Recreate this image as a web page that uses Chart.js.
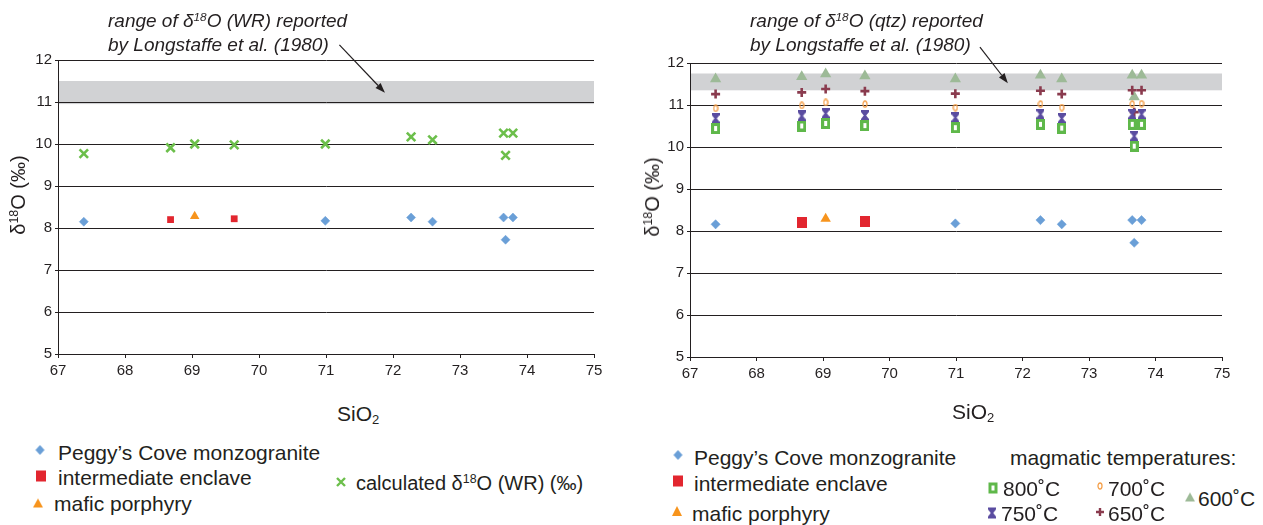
<!DOCTYPE html>
<html>
<head>
<meta charset="utf-8">
<script src="https://cdn.jsdelivr.net/npm/chart.js@4/dist/chart.umd.min.js"></script>
<style>
html,body{margin:0;padding:0;background:#fff;}
#wrap{position:relative;width:1263px;height:525px;background:#fff;font-family:"Liberation Sans",Arial,sans-serif;color:#231f20;overflow:hidden;}
canvas.ch{position:absolute;top:0;}
.t{position:absolute;white-space:nowrap;line-height:1;}
.leg{font-size:21px;transform:translateY(-50%);}
.ann{font-size:19px;font-style:italic;}
.ytitle{font-size:20px;transform:translate(-50%,-50%) rotate(-90deg);}
.xtitle{font-size:21px;transform:translateY(-50%);}
sup{font-size:62%;vertical-align:0.55em;line-height:0;}
sub{font-size:62%;vertical-align:-0.3em;line-height:0;}
.mk{position:absolute;transform:translate(-50%,-50%);}
</style>
</head>
<body>
<div id="wrap">
  <canvas id="c1" class="ch" width="630" height="400" style="left:0"></canvas>
  <canvas id="c2" class="ch" width="631" height="400" style="left:632px"></canvas>

  <div class="t ann" style="left:108px;top:11px">range of δ<sup>18</sup>O (WR) reported</div>
  <div class="t ann" style="left:108px;top:35px">by Longstaffe et al. (1980)</div>
  <div class="t ann" style="left:750px;top:11px">range of δ<sup>18</sup>O (qtz) reported</div>
  <div class="t ann" style="left:750px;top:35px">by Longstaffe et al. (1980)</div>

  <div class="t ytitle" style="left:18px;top:195px">δ<sup>18</sup>O (‰)</div>
  <div class="t ytitle" style="left:652px;top:197px">δ<sup>18</sup>O (‰)</div>
  <div class="t xtitle" style="left:337px;top:413px">SiO<sub>2</sub></div>
  <div class="t xtitle" style="left:952px;top:411px">SiO<sub>2</sub></div>

  <div class="t leg" style="left:58px;top:452px">Peggy’s Cove monzogranite</div>
  <div class="t leg" style="left:58px;top:477px">intermediate enclave</div>
  <div class="t leg" style="left:54px;top:503px">mafic porphyry</div>
  <div class="t leg" style="left:356px;top:483px;font-size:20px">calculated δ<sup>18</sup>O (WR) (‰)</div>

  <div class="t leg" style="left:694px;top:457px">Peggy’s Cove monzogranite</div>
  <div class="t leg" style="left:694px;top:483px">intermediate enclave</div>
  <div class="t leg" style="left:692px;top:513px">mafic porphyry</div>
  <div class="t leg" style="left:1010px;top:457px">magmatic temperatures:</div>
  <div class="t leg" style="left:1003px;top:488px">800˚C</div>
  <div class="t leg" style="left:1108px;top:488px">700˚C</div>
  <div class="t leg" style="left:1198px;top:498px">600˚C</div>
  <div class="t leg" style="left:1001px;top:513px">750˚C</div>
  <div class="t leg" style="left:1108px;top:513px">650˚C</div>
</div>
<script>
// ---------- data ----------
const xTicks = [67, 68, 69, 70, 71, 72, 73, 74, 75];
const yTicks = [5, 6, 7, 8, 9, 10, 11, 12];

// left panel (whole rock)
const peggyX = [67.385, 70.99, 72.27, 72.59, 73.65, 73.79, 73.68];
const peggyWR = [8.15, 8.17, 8.25, 8.15, 8.25, 8.25, 7.72];
const enclaveX = [68.68, 69.63];
const enclaveWR = [8.20, 8.22];
const maficX = [69.04];
const maficWR = [8.28];
const sampleX = [67.385, 68.68, 69.04, 69.63, 70.99, 72.27, 72.59, 73.65, 73.79, 73.68];
const calcWR = [9.77, 9.91, 10.00, 9.98, 10.00, 10.17, 10.10, 10.26, 10.26, 9.73];
const bandWR = [10.95, 11.5];
const arrowWR = [[71.2, 12.36], [71.88, 11.22]];

// right panel (quartz)
const peggyQtz = [8.16, 8.18, 8.26, 8.16, 8.26, 8.26, 7.72];
const enclaveQtz = [8.20, 8.22];
const maficQtz = [8.29];
const t800 = [10.44, 10.50, 10.56, 10.51, 10.46, 10.54, 10.45, 10.54, 10.54, 10.02];
const t750 = [10.68, 10.74, 10.80, 10.75, 10.70, 10.78, 10.68, 10.78, 10.78, 10.26];
const t700 = [10.92, 10.99, 11.06, 11.02, 10.94, 11.02, 10.94, 11.02, 11.03, 10.50];
const t650 = [11.26, 11.30, 11.38, 11.33, 11.27, 11.34, 11.26, 11.35, 11.35, 10.83];
const t600 = [11.62, 11.67, 11.74, 11.69, 11.62, 11.71, 11.62, 11.71, 11.71, 11.19];
const bandQtz = [11.35, 11.75];
const arrowQtz = [[71.36, 12.38], [71.78, 11.52]];

// ---------- colours ----------
const C = {
  peggy:'#6a9fd7', enclave:'#e2262f', mafic:'#f7941d', calc:'#6cbf4b',
  t800:'#5fb84a', t750:'#5a4ca0', t700:'#f5a04b', t650:'#8a3b4e', t600:'#9dba97',
  band:'#d1d2d4', axis:'#231f20'
};

// ---------- marker images ----------
function mkCanvas(w,h,fn){const c=document.createElement('canvas');c.width=w;c.height=h;fn(c.getContext('2d'),w,h);return c;}
const imgHourglass = ()=>mkCanvas(8,11,(g,w,h)=>{g.fillStyle=C.t750;g.beginPath();g.moveTo(0,0);g.lineTo(w,0);g.lineTo(w,2);g.lineTo(w/2+1.2,h/2);g.lineTo(w,h-2);g.lineTo(w,h);g.lineTo(0,h);g.lineTo(0,h-2);g.lineTo(w/2-1.2,h/2);g.lineTo(0,2);g.closePath();g.fill();});
const imgHollowSq = ()=>mkCanvas(9,11,(g,w,h)=>{g.fillStyle=C.t800;g.fillRect(0,0,w,h);g.fillStyle='#fff';g.fillRect(3,3,w-6,h-6);});
const imgOval = ()=>mkCanvas(6,8,(g,w,h)=>{g.strokeStyle=C.t700;g.lineWidth=1.3;g.beginPath();g.ellipse(w/2,h/2,w/2-1,h/2-1,0,0,Math.PI*2);g.stroke();});
const imgRedSq = ()=>mkCanvas(10,11,(g,w,h)=>{g.fillStyle=C.enclave;g.fillRect(0,0,w,h);});

function pts(xs, ys){return xs.map((x,i)=>({x:x,y:ys[i]}));}

// ---------- plugin: band + arrow ----------
const decor = {
  id:'decor',
  beforeDraw(chart, args, opts){
    const {ctx, chartArea:a, scales:{x,y}} = chart;
    const y1 = y.getPixelForValue(opts.band[1]), y0 = y.getPixelForValue(opts.band[0]);
    ctx.save(); ctx.fillStyle = C.band;
    ctx.fillRect(a.left, y1, a.right - a.left, y0 - y1);
    ctx.restore();
  },
  afterDraw(chart, args, opts){
    const {ctx, scales:{x,y}} = chart;
    const [p0,p1] = opts.arrow;
    const x0=x.getPixelForValue(p0[0]), y0=y.getPixelForValue(p0[1]);
    const x1=x.getPixelForValue(p1[0]), y1=y.getPixelForValue(p1[1]);
    const ang = Math.atan2(y1-y0, x1-x0), L=10, W=3.5;
    const bx = x1 - Math.cos(ang)*L, by = y1 - Math.sin(ang)*L;
    ctx.save(); ctx.strokeStyle=C.axis; ctx.fillStyle=C.axis; ctx.lineWidth=1.2;
    ctx.beginPath(); ctx.moveTo(x0,y0); ctx.lineTo(bx,by); ctx.stroke();
    ctx.beginPath(); ctx.moveTo(x1,y1);
    ctx.lineTo(bx + Math.sin(ang)*W, by - Math.cos(ang)*W);
    ctx.lineTo(bx - Math.sin(ang)*W, by + Math.cos(ang)*W);
    ctx.closePath(); ctx.fill(); ctx.restore();
  }
};

function scales(yWidth, xHeight){
  return {
    x:{type:'linear', min:xTicks[0], max:xTicks[xTicks.length-1],
       afterBuildTicks:(s)=>{s.ticks = xTicks.map(v=>({value:v}));},
       afterFit:(s)=>{s.height = xHeight;},
       grid:{drawOnChartArea:false, drawTicks:true, tickLength:4, color:C.axis, lineWidth:1},
       border:{display:true, color:C.axis, width:1},
       ticks:{color:C.axis, font:{family:'"Liberation Sans", Arial, sans-serif', size:15}, padding:4, maxRotation:0, autoSkip:false}},
    y:{type:'linear', min:yTicks[0], max:yTicks[yTicks.length-1],
       afterBuildTicks:(s)=>{s.ticks = yTicks.map(v=>({value:v}));},
       afterFit:(s)=>{s.width = yWidth;},
       grid:{drawOnChartArea:true, drawTicks:true, tickLength:3, color:C.axis, lineWidth:1},
       border:{display:true, color:C.axis, width:1},
       ticks:{color:C.axis, font:{family:'"Liberation Sans", Arial, sans-serif', size:15}, padding:3, autoSkip:false}}
  };
}

const common = {
  responsive:false, animation:false, events:[],
  plugins:{legend:{display:false}, tooltip:{enabled:false}}
};

new Chart(document.getElementById('c1'), {
  type:'scatter',
  data:{datasets:[
    {label:'calculated δ18O (WR) (‰)', data:pts(sampleX, calcWR), pointStyle:'crossRot', pointRadius:6, borderWidth:2.6, borderColor:C.calc, backgroundColor:C.calc},
    {label:'Peggy’s Cove monzogranite', data:pts(peggyX, peggyWR), pointStyle:'rectRot', pointRadius:4.5, borderWidth:0.5, borderColor:C.peggy, backgroundColor:C.peggy},
    {label:'intermediate enclave', data:pts(enclaveX, enclaveWR), pointStyle:'rect', pointRadius:4.8, borderWidth:0, backgroundColor:C.enclave},
    {label:'mafic porphyry', data:pts(maficX, maficWR), pointStyle:'triangle', pointRadius:5.5, borderWidth:0, backgroundColor:C.mafic}
  ]},
  options:Object.assign({}, common, {
    layout:{padding:{left:0, top:60, right:36, bottom:0}},
    scales:scales(58, 46),
    plugins:{legend:{display:false}, tooltip:{enabled:false}, decor:{band:bandWR, arrow:arrowWR}}
  }),
  plugins:[decor]
});

new Chart(document.getElementById('c2'), {
  type:'scatter',
  data:{datasets:[
    {label:'800˚C', data:pts(sampleX, t800), pointStyle:imgHollowSq()},
    {label:'750˚C', data:pts(sampleX, t750), pointStyle:imgHourglass()},
    {label:'700˚C', data:pts(sampleX, t700), pointStyle:imgOval()},
    {label:'650˚C', data:pts(sampleX, t650), pointStyle:'cross', pointRadius:4.5, borderWidth:2.6, borderColor:C.t650},
    {label:'600˚C', data:pts(sampleX, t600), pointStyle:'triangle', pointRadius:6.5, borderWidth:0, backgroundColor:C.t600},
    {label:'Peggy’s Cove monzogranite', data:pts(peggyX, peggyQtz), pointStyle:'rectRot', pointRadius:4.6, borderWidth:0.5, borderColor:C.peggy, backgroundColor:C.peggy},
    {label:'intermediate enclave', data:pts(enclaveX, enclaveQtz), pointStyle:imgRedSq()},
    {label:'mafic porphyry', data:pts(maficX, maficQtz), pointStyle:'triangle', pointRadius:6, borderWidth:0, backgroundColor:C.mafic}
  ]},
  options:Object.assign({}, common, {
    layout:{padding:{left:0, top:63, right:41, bottom:0}},
    scales:scales(58, 43),
    plugins:{legend:{display:false}, tooltip:{enabled:false}, decor:{band:bandQtz, arrow:arrowQtz}}
  }),
  plugins:[decor]
});

// ---------- legend markers ----------
const wrap = document.getElementById('wrap');
function place(el, x, y){el.className='mk'; el.style.left=x+'px'; el.style.top=y+'px'; wrap.appendChild(el);}
function shape(fn, w, h){return mkCanvas(w,h,fn);}
const diamond = ()=>shape((g,w,h)=>{g.fillStyle=C.peggy;g.beginPath();g.moveTo(w/2,0);g.lineTo(w,h/2);g.lineTo(w/2,h);g.lineTo(0,h/2);g.closePath();g.fill();},9,10);
const square = ()=>shape((g,w,h)=>{g.fillStyle=C.enclave;g.fillRect(0,0,w,h);},10,11);
const tri = (col,w,h)=>shape((g)=>{g.fillStyle=col;g.beginPath();g.moveTo(w/2,0);g.lineTo(w,h);g.lineTo(0,h);g.closePath();g.fill();},w,h);
const xmark = ()=>shape((g,w,h)=>{g.strokeStyle=C.calc;g.lineWidth=2.4;g.beginPath();g.moveTo(1,1);g.lineTo(w-1,h-1);g.moveTo(w-1,1);g.lineTo(1,h-1);g.stroke();},10,10);
const plus = ()=>shape((g,w,h)=>{g.strokeStyle=C.t650;g.lineWidth=2.4;g.beginPath();g.moveTo(w/2,0);g.lineTo(w/2,h);g.moveTo(0,h/2);g.lineTo(w,h/2);g.stroke();},8,8);

place(diamond(), 40, 450);
place(square(), 41, 476);
place(tri(C.mafic,10,9), 38, 503);
place(xmark(), 341, 482);

place(diamond(), 678, 455);
place(square(), 678, 481);
place(tri(C.mafic,10,10), 677, 511);
place(imgHollowSq(), 993, 488);
place(imgOval(), 1100, 486);
place(tri(C.t600,10,9), 1190, 497);
place(imgHourglass(), 992, 513);
place(plus(), 1100, 512);
</script>
</body>
</html>
